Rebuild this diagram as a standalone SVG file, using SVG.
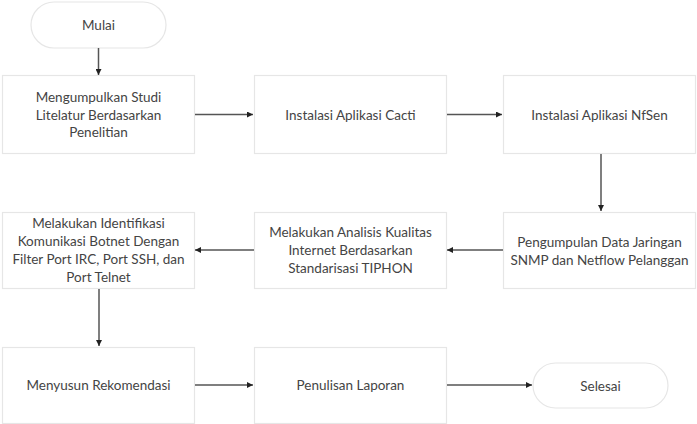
<svg xmlns="http://www.w3.org/2000/svg" width="697" height="424" viewBox="0 0 697 424">
<defs>
<marker id="ah" viewBox="0 0 10 10" refX="10" refY="5" markerWidth="6" markerHeight="6" markerUnits="userSpaceOnUse" orient="auto">
<path d="M0,0 L10,5 L0,10 z" fill="#222"/>
</marker>
<style>
.box{fill:#fff;stroke:#e6e6e6;stroke-width:1.2}
.t{font-family:Lato,"Open Sans",sans-serif;font-size:13.5px;fill:#444;text-anchor:middle;dominant-baseline:central}
.c{stroke:#555;stroke-width:1.5;fill:none;marker-end:url(#ah)}
</style>
</defs>
<rect width="697" height="424" fill="#fff"/>
<g id="mulai"><rect class="box" x="31" y="2" width="135" height="46" rx="23"/><text class="t" x="98.5" y="25">Mulai</text></g>
<g id="n1"><rect class="box" x="2.5" y="75.5" width="192" height="78"/><text class="t" x="98.5"><tspan x="98.5" y="97">Mengumpulkan Studi</tspan><tspan x="98.5" y="114.5">Litelatur Berdasarkan</tspan><tspan x="98.5" y="132">Penelitian</tspan></text></g>
<g id="n2"><rect class="box" x="254.5" y="75.5" width="192" height="78"/><text class="t" x="350.5" y="114.5">Instalasi Aplikasi Cacti</text></g>
<g id="n3"><rect class="box" x="503.5" y="75.5" width="192" height="78"/><text class="t" x="599.5" y="114.5">Instalasi Aplikasi NfSen</text></g>
<g id="n6"><rect class="box" x="503.5" y="212.5" width="192" height="76"/><text class="t"><tspan x="599.5" y="242">Pengumpulan Data Jaringan</tspan><tspan x="599.5" y="260">SNMP dan Netflow Pelanggan</tspan></text></g>
<g id="n5"><rect class="box" x="254.5" y="212.5" width="192" height="76"/><text class="t"><tspan x="350.5" y="232">Melakukan Analisis Kualitas</tspan><tspan x="350.5" y="250">Internet Berdasarkan</tspan><tspan x="350.5" y="268">Standarisasi TIPHON</tspan></text></g>
<g id="n4"><rect class="box" x="2.5" y="212.5" width="192" height="76"/><text class="t"><tspan x="98.5" y="223">Melakukan Identifikasi</tspan><tspan x="98.5" y="241">Komunikasi Botnet Dengan</tspan><tspan x="98.5" y="259">Filter Port IRC, Port SSH, dan</tspan><tspan x="98.5" y="277">Port Telnet</tspan></text></g>
<g id="n7"><rect class="box" x="2.5" y="347.5" width="192" height="76"/><text class="t" x="98.5" y="385">Menyusun Rekomendasi</text></g>
<g id="n8"><rect class="box" x="254.5" y="347.5" width="192" height="76"/><text class="t" x="350.5" y="385">Penulisan Laporan</text></g>
<g id="selesai"><rect class="box" x="533" y="363" width="135" height="45" rx="22.5"/><text class="t" x="600.5" y="385.5">Selesai</text></g>
<g id="connectors">
<line class="c" x1="98.5" y1="48" x2="98.5" y2="75"/>
<line class="c" x1="195" y1="114.5" x2="253" y2="114.5"/>
<line class="c" x1="447" y1="114.5" x2="502" y2="114.5"/>
<line class="c" x1="601" y1="154" x2="601" y2="211"/>
<line class="c" x1="503" y1="250" x2="447" y2="250"/>
<line class="c" x1="254" y1="250" x2="195" y2="250"/>
<line class="c" x1="99" y1="289" x2="99" y2="346"/>
<line class="c" x1="195" y1="385" x2="253" y2="385"/>
<line class="c" x1="447" y1="385" x2="532" y2="385"/>
</g>
</svg>
